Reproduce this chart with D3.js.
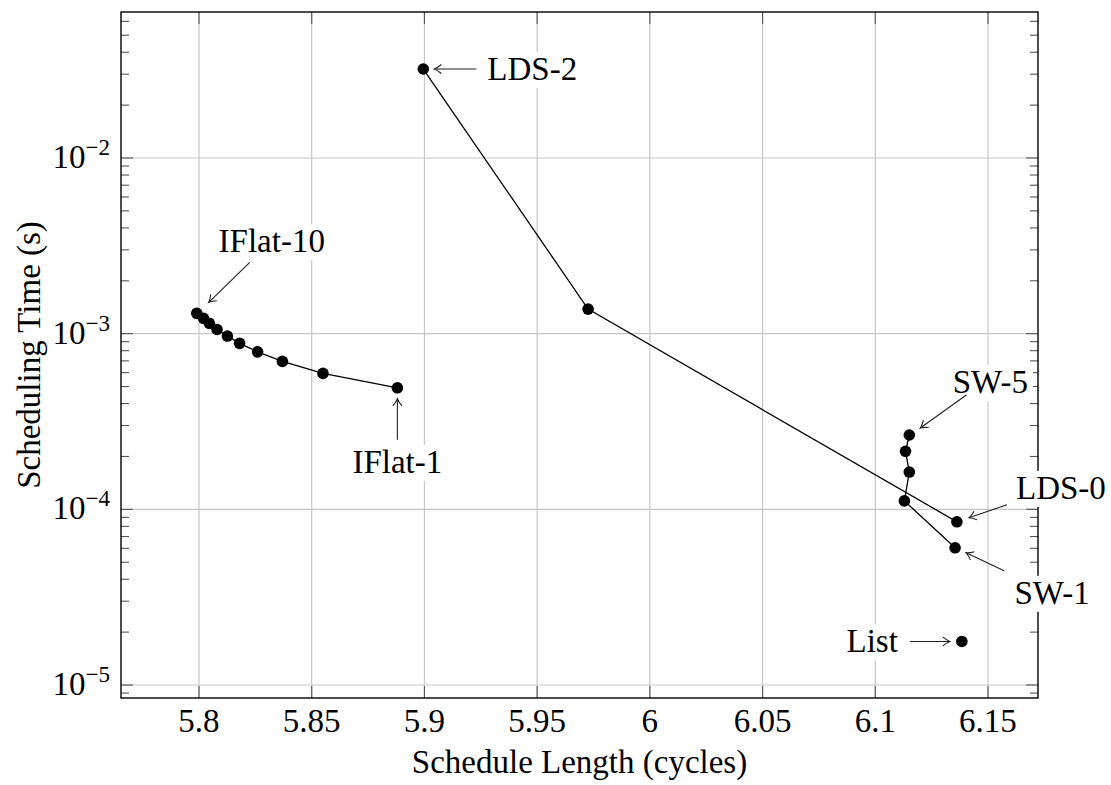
<!DOCTYPE html>
<html>
<head>
<meta charset="utf-8">
<script src="https://cdn.jsdelivr.net/npm/d3@7/dist/d3.min.js"></script>
<style>
  html, body { margin: 0; padding: 0; background: #fff; }
  svg, svg text, svg tspan { font-family: "Liberation Serif", "Nimbus Roman", "FreeSerif", "Times New Roman", Times !important; }
</style>
</head>
<body>
<svg id="chart" width="1111" height="785" style="font-family: 'Liberation Serif', 'Nimbus Roman', FreeSerif, Times"></svg>
<script>
// ---- data ----
const iflatX = [5.799, 5.802, 5.8046, 5.808, 5.8126, 5.818, 5.826, 5.837, 5.855, 5.888];
const iflatY = [1.305e-3, 1.222e-3, 1.145e-3, 1.057e-3, 9.69e-4, 8.81e-4, 7.88e-4, 6.95e-4, 5.94e-4, 4.92e-4];
const ldsX = [6.1362, 5.9726, 5.8995];
const ldsY = [8.49e-5, 1.38e-3, 3.21e-2];
const swX = [6.1354, 6.1129, 6.1151, 6.1134, 6.1151];
const swY = [6.04e-5, 1.117e-4, 1.63e-4, 2.14e-4, 2.65e-4];
const listX = [6.1384];
const listY = [1.77e-5];
const xTicks = [5.8, 5.85, 5.9, 5.95, 6.0, 6.05, 6.1, 6.15];
const xTickLabels = ["5.8", "5.85", "5.9", "5.95", "6", "6.05", "6.1", "6.15"];
const yTickExps = [-5, -4, -3, -2];
const annLabels = ["LDS-2", "IFlat-10", "IFlat-1", "SW-5", "LDS-0", "SW-1", "List"];
const xLabel = "Schedule Length (cycles)";
const yLabel = "Scheduling Time (s)";

// ---- layout (pixel offsets of annotations relative to their target point) ----
const annLayout = [
  {sx: ldsX[2], sy: ldsY[2], head: [11, 0], tail: [53, 0], text: [64, 0], anchor: "start"},
  {sx: iflatX[0], sy: iflatY[0], head: [12, -11], tail: [53, -51], text: [75, -72], anchor: "middle"},
  {sx: iflatX[9], sy: iflatY[9], head: [0, 11], tail: [0, 52], text: [0, 74], anchor: "middle"},
  {sx: swX[4], sy: swY[4], head: [11, -7], tail: [57, -40], text: [81, -53], anchor: "middle"},
  {sx: ldsX[0], sy: ldsY[0], head: [12, -4], tail: [50, -17], text: [104, -34], anchor: "middle"},
  {sx: swX[0], sy: swY[0], head: [11, 5], tail: [49, 23], text: [97, 45], anchor: "middle"},
  {sx: listX[0], sy: listY[0], head: [-12, 0], tail: [-52, 0], text: [-64, 0], anchor: "end"}
];

const L = 121, R = 1038, T = 12, B = 698;
const FS = 33;
const FONT = "'Liberation Serif', 'Nimbus Roman', FreeSerif, Times";

const svg = d3.select("#chart");
const x = d3.scaleLinear().domain([5.76540, 6.17218]).range([L, R]);
const y = d3.scaleLog().domain([Math.pow(10, -5.074), Math.pow(10, -1.1689)]).range([B, T]);

function txt(sel) {
  return sel.append("text").attr("font-family", FONT).style("font-family", FONT).attr("font-size", FS);
}

// grid
const grid = svg.append("g").attr("stroke", "#c6c6c6").attr("stroke-width", 1.2);
grid.selectAll("line.gx").data(xTicks).enter().append("line")
  .attr("x1", d => x(d)).attr("x2", d => x(d)).attr("y1", T).attr("y2", B);
grid.selectAll("line.gy").data(yTickExps).enter().append("line")
  .attr("x1", L).attr("x2", R).attr("y1", d => y(Math.pow(10, d))).attr("y2", d => y(Math.pow(10, d)));

// ticks
const ticks = svg.append("g").attr("stroke", "#555").attr("stroke-width", 1.1);
xTicks.forEach(t => {
  ticks.append("line").attr("x1", x(t)).attr("x2", x(t)).attr("y1", B).attr("y2", B - 12);
  ticks.append("line").attr("x1", x(t)).attr("x2", x(t)).attr("y1", T).attr("y2", T + 12);
});
for (let e = -6; e <= -1; e++) {
  for (let m = 1; m <= 9; m++) {
    const v = m * Math.pow(10, e);
    const py = y(v);
    if (py < T - 0.5 || py > B + 0.5) continue;
    const len = m === 1 ? 12 : 8;
    ticks.append("line").attr("x1", L).attr("x2", L + len).attr("y1", py).attr("y2", py);
    ticks.append("line").attr("x1", R).attr("x2", R - len).attr("y1", py).attr("y2", py);
  }
}

// axis frame
svg.append("rect").attr("x", L).attr("y", T).attr("width", R - L).attr("height", B - T)
  .attr("fill", "none").attr("stroke", "#000").attr("stroke-width", 1.4);

// tick labels
const xl = svg.append("g");
xTicks.forEach((d, i) => {
  txt(xl).attr("x", x(d)).attr("y", B + 34).attr("text-anchor", "middle").text(xTickLabels[i]);
});

const yl = svg.append("g");
yTickExps.forEach(e => {
  const py = y(Math.pow(10, e));
  const t = txt(yl).attr("x", 110).attr("y", py + 10).attr("text-anchor", "end");
  t.append("tspan").text("10");
  t.append("tspan").attr("font-size", 23).attr("dy", -13).text("\u2212" + Math.abs(e));
});

// axis labels
txt(svg).attr("x", (L + R) / 2).attr("y", 773).attr("text-anchor", "middle").text(xLabel);
txt(svg).attr("transform", `translate(40,${(T + B) / 2}) rotate(-90)`)
  .attr("text-anchor", "middle").text(yLabel);

// series lines
const line = d3.line().x(d => x(d[0])).y(d => y(d[1]));
const series = [
  d3.zip(iflatX, iflatY),
  d3.zip(ldsX, ldsY),
  d3.zip(swX, swY),
  d3.zip(listX, listY)
];
const plot = svg.append("g");
series.forEach(s => {
  if (s.length > 1) {
    plot.append("path").datum(s).attr("d", line).attr("fill", "none")
      .attr("stroke", "#000").attr("stroke-width", 1.3);
  }
});
series.forEach(s => {
  plot.selectAll(null).data(s).enter().append("circle")
    .attr("cx", d => x(d[0])).attr("cy", d => y(d[1])).attr("r", 5.8).attr("fill", "#000");
});

// annotations
const ann = svg.append("g");
annLayout.forEach((a, i) => {
  const px = x(a.sx), py = y(a.sy);
  const t = txt(ann).attr("x", px + a.text[0]).attr("y", py + a.text[1] + 11)
    .attr("text-anchor", a.anchor).text(annLabels[i]);
  const bb = t.node().getBBox();
  ann.insert("rect", "text").attr("x", bb.x - 5).attr("y", py + a.text[1] - 17)
    .attr("width", bb.width + 10).attr("height", 36).attr("fill", "#fff");
});
annLayout.forEach((a, i) => {
  const px = x(a.sx), py = y(a.sy);
  const x1 = px + a.tail[0], y1 = py + a.tail[1], x2 = px + a.head[0], y2 = py + a.head[1];
  ann.append("line").attr("x1", x1).attr("y1", y1).attr("x2", x2).attr("y2", y2)
    .attr("stroke", "#222").attr("stroke-width", 1.1);
  const ang = Math.atan2(y2 - y1, x2 - x1) * 180 / Math.PI;
  ann.append("path").attr("d", "M-7,-4.5 Q-3,-1 0,0 Q-3,1 -7,4.5")
    .attr("transform", `translate(${x2},${y2}) rotate(${ang})`)
    .attr("fill", "none").attr("stroke", "#222").attr("stroke-width", 1.1);
});
</script>
</body>
</html>
